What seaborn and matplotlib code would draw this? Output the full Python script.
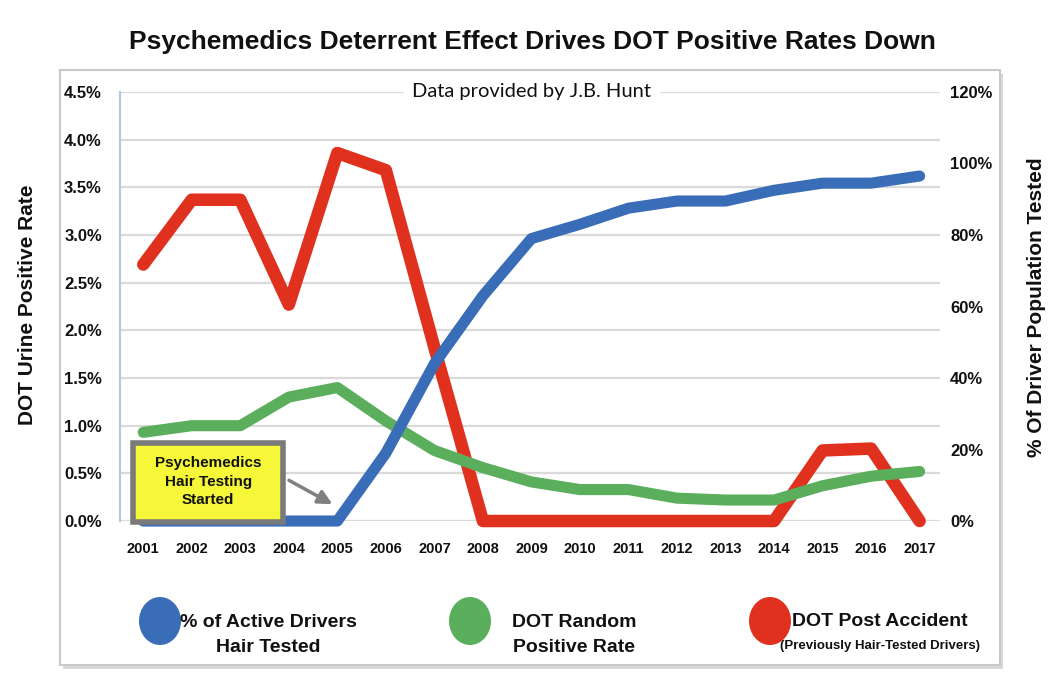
import numpy as np
import pandas as pd
import seaborn as sns
import matplotlib.pyplot as plt
from matplotlib.patches import Rectangle, Ellipse, FancyBboxPatch
from matplotlib.ticker import FuncFormatter

# values
years = list(range(2001, 2018))
hair_tested = [0, 0, 0, 0, 0, 19, 44, 63, 79, 83, 87.5, 89.5, 89.5, 92.5, 94.5, 94.5, 96.5]
random_rate = [0.93, 1.0, 1.0, 1.3, 1.4, 1.05, 0.74, 0.56, 0.41, 0.33, 0.33, 0.24, 0.22, 0.22, 0.37, 0.47, 0.52]
post_accident = [2.69, 3.37, 3.37, 2.27, 3.86, 3.68, 1.82, 0, 0, 0, 0, 0, 0, 0, 0.74, 0.76, 0]

blue = "#3A6DB8"
green = "#5BAE5B"
red = "#E0301E"

df = pd.DataFrame({"year": years, "hair": hair_tested,
                   "random": random_rate, "post": post_accident})

sns.set_theme(style="white")
plt.rcParams["font.family"] = ["Liberation Sans", "DejaVu Sans"]
ink = "#111111"

fig = plt.figure(figsize=(10.56, 6.88), dpi=100)

# panel frame with a soft shadow
fig.add_artist(FancyBboxPatch((0.060, 0.027), 0.890, 0.865, boxstyle="square,pad=0",
                              transform=fig.transFigure, fc="#d8d8d8", ec="none", zorder=0))
fig.add_artist(FancyBboxPatch((0.0568, 0.0334), 0.890, 0.865, boxstyle="square,pad=0",
                              transform=fig.transFigure, fc="white", ec="#c8c8c8", lw=1.5, zorder=0))

ax = fig.add_axes([0.1136, 0.2427, 0.777, 0.6236])
ax2 = ax.twinx()

# left axis series
sns.lineplot(data=df, x="year", y="post", ax=ax, color=red, lw=9, clip_on=False, zorder=3)
sns.lineplot(data=df, x="year", y="random", ax=ax, color=green, lw=8, clip_on=False, zorder=4)
# right axis series
sns.lineplot(data=df, x="year", y="hair", ax=ax2, color=blue, lw=8, clip_on=False, zorder=3)

ax.set_xlim(2000.52, 2017.43)
ax.set_ylim(0, 4.5)
ax2.set_ylim(0, 120)
ax.set_xticks(years)
ax.set_xticklabels([str(y) for y in years], fontsize=10.5, fontweight="bold", color=ink)
ax.set_yticks(np.arange(0, 4.51, 0.5))
ax.yaxis.set_major_formatter(FuncFormatter(lambda v, p: f"{v:.1f}%"))
ax2.set_yticks(range(0, 121, 20))
ax2.yaxis.set_major_formatter(FuncFormatter(lambda v, p: f"{v:.0f}%"))
for lab in ax.get_yticklabels() + ax2.get_yticklabels():
    lab.set_fontsize(12)
    lab.set_fontweight("bold")
    lab.set_color(ink)
ax.tick_params(axis="y", length=0, pad=13)
ax.tick_params(axis="x", length=0, pad=15)
ax2.tick_params(axis="y", length=0, pad=7)
ax.set_xlabel("")
ax.set_ylabel("")
ax2.set_ylabel("")

ax.yaxis.grid(True, color="#dadada", lw=1.6)
ax.set_axisbelow(True)
for s in ["top", "right", "bottom"]:
    ax.spines[s].set_visible(False)
ax.spines["left"].set_color("#b4c7e0")
ax.spines["left"].set_linewidth(1.5)
for s in ax2.spines.values():
    s.set_visible(False)
ax.patch.set_alpha(0)
ax2.patch.set_alpha(0)

# annotation box
ax2.add_patch(Rectangle((0.016, -0.002), 0.183, 0.184, transform=ax2.transAxes,
                        fc="#F7F73A", ec="#7a7a7a", lw=4, zorder=10, clip_on=False))
ax2.text(0.1075, 0.092, "Psychemedics\nHair Testing\nStarted", transform=ax2.transAxes,
         ha="center", va="center", fontsize=11, fontweight="bold", linespacing=1.4,
         color=ink, zorder=11)
ax2.annotate("", xy=(0.262, 0.036), xytext=(0.203, 0.098),
             xycoords="axes fraction", textcoords="axes fraction",
             arrowprops=dict(arrowstyle="-|>,head_length=0.7,head_width=0.35",
                             color="#808080", lw=2.5), zorder=11)

# titles and axis labels
fig.text(0.504, 1 - 42 / 688, "Psychemedics Deterrent Effect Drives DOT Positive Rates Down",
         ha="center", va="center", fontsize=19, fontweight="bold", color=ink)
fig.text(532 / 1056, 1 - 92 / 688, "Data provided by J.B. Hunt", ha="center", va="center",
         fontsize=14.5, family=["Lato", "DejaVu Sans"], color=ink,
         bbox=dict(fc="white", ec="none", pad=6))
fig.text(28 / 1056, 1 - 305 / 688, "DOT Urine Positive Rate", rotation=90,
         ha="center", va="center", fontsize=15, fontweight="bold", color=ink)
fig.text(1036 / 1056, 1 - 307 / 688, "% Of Driver Population Tested", rotation=90,
         ha="center", va="center", fontsize=15, fontweight="bold", color=ink)

# legend
legend_items = [
    (160, blue, 268, "% of Active Drivers\nHair Tested", None),
    (470, green, 574, "DOT Random\nPositive Rate", None),
    (770, red, 880, "DOT Post Accident", "(Previously Hair-Tested Drivers)"),
]
for cx, col, tx, label, sub in legend_items:
    fig.add_artist(Ellipse((cx / 1056, 1 - 621 / 688), 42 / 1056, 48 / 688,
                           transform=fig.transFigure, fc=col, ec="none"))
    if sub is None:
        fig.text(tx / 1056, 1 - 635 / 688, label, ha="center", va="center",
                 fontsize=14, fontweight="bold", linespacing=1.55, color=ink)
    else:
        fig.text(tx / 1056, 1 - 622 / 688, label, ha="center", va="center",
                 fontsize=14, fontweight="bold", color=ink)
        fig.text(tx / 1056, 1 - 646 / 688, sub, ha="center", va="center",
                 fontsize=9.5, fontweight="bold", color=ink)

fig.savefig("out.png", dpi=100)
